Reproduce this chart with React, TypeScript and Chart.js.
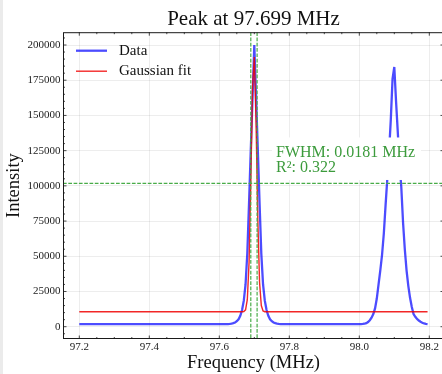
import React, { useEffect, useRef } from "react";
import { Chart, registerables } from "chart.js";

Chart.register(...registerables);

// ---- values ----
const peakFrequency = 97.699;
const fwhmMHz = 0.0181;
const rSquared = 0.322;

const dataFreq = [
  97.2,
  97.625, 97.63, 97.635, 97.64, 97.645, 97.65, 97.655, 97.66, 97.665, 97.67,
  97.675, 97.68, 97.685, 97.69, 97.695, 97.7, 97.705, 97.71, 97.715, 97.72,
  97.725, 97.73, 97.735, 97.74, 97.745, 97.75, 97.755, 97.76, 97.765, 97.77,
  97.775,
  98.005, 98.01, 98.015, 98.02, 98.025, 98.03, 98.035, 98.04, 98.045, 98.05,
  98.055, 98.06, 98.065, 98.07, 98.075, 98.08, 98.085, 98.09, 98.095, 98.1,
  98.105, 98.11, 98.115, 98.12, 98.125, 98.13, 98.135, 98.14, 98.145, 98.15,
  98.155, 98.16, 98.165, 98.17, 98.175, 98.18, 98.185, 98.19, 98.195,
];
const dataIntensity = [
  1900,
  1900, 2000, 2200, 2500, 3000, 3900, 5300, 7800, 11800, 18500,
  30000, 52000, 88000, 126000, 163000, 200000, 163000, 126000, 88000, 52000,
  30000, 18500, 11800, 7800, 5300, 3900, 3000, 2500, 2200, 2000,
  1900,
  1900, 1950, 2100, 2500, 3300, 4600, 6400, 9000, 13000, 20000,
  30000, 40000, 51000, 66000, 86000, 105000, 124000, 147000, 176000, 184400,
  160000, 138000, 116000, 99000, 74000, 55000, 40000, 29000, 20500, 14000,
  9000, 7000, 5500, 4400, 3500, 2800, 2300, 2000, 1900,
];

const fitFreq = [
  97.2, 97.665, 97.67, 97.675, 97.68, 97.685, 97.69, 97.695, 97.7, 97.705,
  97.71, 97.715, 97.72, 97.725, 97.73, 97.735, 98.195,
];
const fitIntensity = [
  10600, 10600, 10750, 12000, 19200, 45400, 102500, 169900, 191500, 145100,
  76200, 31500, 15000, 11200, 10650, 10600, 10600,
];

const fwhmBounds = [97.69, 97.708];
const halfMaxLevel = 101800;
const annotationAt = [97.762, 120500];

const xTicks = [97.2, 97.4, 97.6, 97.8, 98.0, 98.2];
const yTicks = [0, 25000, 50000, 75000, 100000, 125000, 150000, 175000, 200000];
const xRange = [97.15343, 98.242];
const yRange = [-8730, 209090];

// ---- styles ----
const SERIF = "'Liberation Serif', 'Times New Roman', serif";
const BLUE = "rgba(0, 0, 255, 0.7)";
const RED = "rgba(240, 0, 0, 0.85)";
const GREEN_LINE = "rgb(72, 172, 72)";
const GREEN_TEXT = "rgb(60, 155, 60)";

const overlayPlugin = {
  id: "overlay",
  afterDatasetsDraw(chart: any) {
    const { ctx, chartArea: a, scales } = chart;
    const x = scales.x;
    const y = scales.y;
    ctx.save();
    ctx.beginPath();
    ctx.rect(a.left, a.top, a.right - a.left, a.bottom - a.top);
    ctx.clip();
    ctx.strokeStyle = GREEN_LINE;
    ctx.lineWidth = 1.2;
    ctx.setLineDash([3.7, 1.6]);
    for (const f of fwhmBounds) {
      const px = x.getPixelForValue(f);
      ctx.beginPath();
      ctx.moveTo(px, a.top);
      ctx.lineTo(px, a.bottom);
      ctx.stroke();
    }
    const py = y.getPixelForValue(halfMaxLevel);
    ctx.beginPath();
    ctx.moveTo(a.left, py);
    ctx.lineTo(a.right, py);
    ctx.stroke();
    ctx.setLineDash([]);

    // annotation with white box
    const ax = x.getPixelForValue(annotationAt[0]);
    const ay = y.getPixelForValue(annotationAt[1]);
    ctx.fillStyle = "#ffffff";
    ctx.fillRect(ax - 4, ay - 19.5, 149, 42.5);
    ctx.font = `16px ${SERIF}`;
    ctx.fillStyle = GREEN_TEXT;
    ctx.textAlign = "left";
    ctx.textBaseline = "alphabetic";
    ctx.fillText(`FWHM: ${fwhmMHz.toFixed(4)} MHz`, ax, ay);
    ctx.fillText(`R²: ${rSquared.toFixed(3)}`, ax, ay + 15.5);
    ctx.restore();
  },
  afterDraw(chart: any) {
    const { ctx, chartArea: a, scales } = chart;
    const x = scales.x;
    const y = scales.y;
    ctx.save();
    // frame
    ctx.strokeStyle = "#1a1a1a";
    ctx.lineWidth = 1;
    ctx.strokeRect(a.left + 0.5, a.top + 0.5, a.right - a.left - 1, a.bottom - a.top - 1);

    // inward ticks on all sides
    ctx.lineWidth = 0.8;
    const major = 3.5;
    const minor = 2;
    const xTick = (v: number, len: number) => {
      const px = x.getPixelForValue(v);
      if (px < a.left || px > a.right) return;
      ctx.beginPath();
      ctx.moveTo(px, a.bottom);
      ctx.lineTo(px, a.bottom - len);
      ctx.moveTo(px, a.top);
      ctx.lineTo(px, a.top + len);
      ctx.stroke();
    };
    const yTick = (v: number, len: number) => {
      const py = y.getPixelForValue(v);
      if (py < a.top || py > a.bottom) return;
      ctx.beginPath();
      ctx.moveTo(a.left, py);
      ctx.lineTo(a.left + len, py);
      ctx.moveTo(a.right, py);
      ctx.lineTo(a.right - len, py);
      ctx.stroke();
    };
    xTicks.forEach((v) => xTick(v, major));
    for (let k = 0; k <= 22; k++) {
      const v = 97.15 + k * 0.05;
      if (xTicks.some((t) => Math.abs(t - v) < 1e-6)) continue;
      xTick(v, minor);
    }
    yTicks.forEach((v) => yTick(v, major));
    for (let k = -2; k <= 42; k++) {
      const v = k * 5000;
      if (k % 5 === 0) continue;
      yTick(v, minor);
    }

    // legend
    ctx.font = `15px ${SERIF}`;
    ctx.textBaseline = "middle";
    ctx.textAlign = "left";
    chart.data.datasets.forEach((ds: any, i: number) => {
      const yy = a.top + 18.5 + i * 20.5;
      ctx.strokeStyle = ds.borderColor;
      ctx.lineWidth = ds.borderWidth;
      ctx.beginPath();
      ctx.moveTo(a.left + 13, yy);
      ctx.lineTo(a.left + 44, yy);
      ctx.stroke();
      ctx.fillStyle = "#111";
      ctx.fillText(ds.label, a.left + 56, yy);
    });
    ctx.restore();
  },
};

export default function App() {
  const canvasRef = useRef<HTMLCanvasElement | null>(null);

  useEffect(() => {
    document.body.style.margin = "0";
    document.body.style.background = "#ffffff";
    const canvas = canvasRef.current;
    if (!canvas) return;
    const chart = new Chart(canvas, {
      type: "line",
      data: {
        datasets: [
          {
            label: "Data",
            data: dataFreq.map((f, i) => ({ x: f, y: dataIntensity[i] })),
            borderColor: BLUE,
            backgroundColor: BLUE,
            borderWidth: 2.3,
            pointRadius: 0,
            tension: 0,
            fill: false,
            order: 1,
          },
          {
            label: "Gaussian fit",
            data: fitFreq.map((f, i) => ({ x: f, y: fitIntensity[i] })),
            borderColor: RED,
            backgroundColor: RED,
            borderWidth: 1.4,
            pointRadius: 0,
            tension: 0,
            fill: false,
            order: 0,
          },
        ],
      },
      options: {
        responsive: false,
        animation: false,
        devicePixelRatio: 1,
        layout: { padding: { left: 0, right: 2, top: 0, bottom: 0 } },
        plugins: {
          legend: { display: false },
          tooltip: { enabled: false },
          title: {
            display: true,
            text: `Peak at ${peakFrequency.toFixed(3)} MHz`,
            color: "#111",
            font: { family: SERIF, size: 21, weight: "normal" },
            padding: { top: 7, bottom: 0 },
            fullSize: false,
          },
        },
        scales: {
          x: {
            type: "linear",
            min: xRange[0],
            max: xRange[1],
            afterBuildTicks: (s: any) => {
              s.ticks = xTicks.map((v) => ({ value: v }));
            },
            afterFit: (s: any) => {
              s.height = 35;
            },
            ticks: {
              callback: (v: any) => Number(v).toFixed(1),
              font: { family: SERIF, size: 11 },
              color: "#222",
              padding: 2,
              maxRotation: 0,
              autoSkip: false,
            },
            grid: { color: "rgba(0,0,0,0.09)", lineWidth: 0.8, drawTicks: false },
            border: { display: false },
            title: {
              display: true,
              text: "Frequency (MHz)",
              color: "#111",
              font: { family: SERIF, size: 18.5 },
              padding: { top: 0, bottom: 0 },
            },
          },
          y: {
            type: "linear",
            min: yRange[0],
            max: yRange[1],
            afterBuildTicks: (s: any) => {
              s.ticks = yTicks.map((v) => ({ value: v }));
            },
            afterFit: (s: any) => {
              s.width = 63;
            },
            ticks: {
              callback: (v: any) => String(v),
              font: { family: SERIF, size: 11 },
              color: "#222",
              padding: 2.5,
              autoSkip: false,
            },
            grid: { color: "rgba(0,0,0,0.09)", lineWidth: 0.8, drawTicks: false },
            border: { display: false },
            title: {
              display: true,
              text: "Intensity",
              color: "#111",
              font: { family: SERIF, size: 18.5 },
              padding: { top: 3.5, bottom: 0 },
            },
          },
        },
      },
      plugins: [overlayPlugin],
    });
    return () => chart.destroy();
  }, []);

  return (
    <div style={{ position: "relative", width: 442, height: 374, overflow: "hidden", background: "#fff" }}>
      <canvas ref={canvasRef} width={446} height={374} style={{ display: "block" }} />
      <div style={{ position: "absolute", left: 0, top: 0, width: 3, height: 374, background: "#ebebeb" }} />
    </div>
  );
}
